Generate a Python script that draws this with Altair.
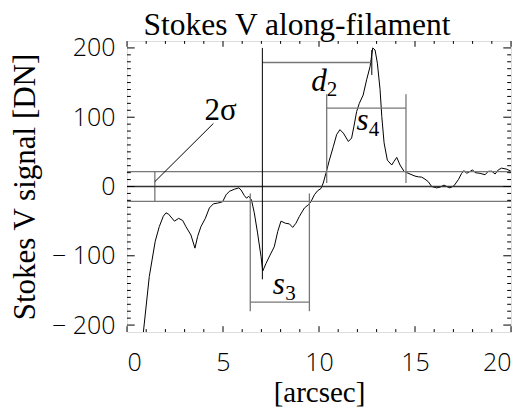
import altair as alt
import pandas as pd

# ---- curve: Stokes V signal along the filament ----
X_ARC = [0.80, 0.85, 1.16, 1.47, 1.68, 1.89, 2.03, 2.17, 2.47, 2.69, 2.90, 3.07, 3.33, 3.54,
         3.68, 3.85, 4.08, 4.29, 4.50, 4.72, 4.98, 5.16, 5.33, 5.59, 5.82, 5.94, 6.11, 6.23,
         6.33, 6.48, 6.63, 6.80, 6.98, 7.07, 7.24, 7.45, 7.67, 7.85, 8.02, 8.25, 8.46, 8.63,
         8.80, 8.98, 9.24, 9.46, 9.58, 9.76, 9.93, 10.10, 10.22, 10.36, 10.54, 10.75, 10.92,
         11.09, 11.27, 11.53, 11.70, 11.82, 11.96, 12.10, 12.30, 12.48, 12.66, 12.80, 12.92,
         13.04, 13.18, 13.27, 13.39, 13.56, 13.79, 13.90, 14.05, 14.22, 14.43, 14.57, 14.74,
         15.00, 15.17, 15.35, 15.52, 15.69, 15.87, 16.13, 16.30, 16.51, 16.65, 16.82, 17.03,
         17.26, 17.43, 17.55, 17.69, 17.86, 18.00, 18.13, 18.39, 18.65, 18.82, 19.00, 19.17,
         19.34, 19.51, 19.78, 20.00]
Y_DN = [-225, -211, -130, -79, -58, -43, -38, -40, -50, -46, -49, -58, -70, -89,
        -72, -58, -46, -31, -25, -24, -22, -12, -7, -4, -2, -5, -13, -17,
        -14, -19, -38, -67, -101, -122, -111, -99, -87, -65, -50, -53, -54, -59,
        -53, -43, -31, -26, -22, -12, -6, -3, 5, 19, 38, 58, 75,
        82, 77, 65, 70, 87, 108, 120, 132, 154, 173, 200, 197,
        178, 140, 101, 63, 38, 31, 36, 42, 31, 22, 20, 18,
        15, 14, 13.5, 10.6, 7, 0, -2, -1, 2, 0, -2, 1,
        10, 19, 23, 19, 21.6, 24, 20, 19, 17, 22, 22, 18,
        24, 26.5, 25, 22]

SIGMA2 = 21.5

# ---- annotation segments (data units) ----
SEG_X1 = [0, 0, 1.45, 7.05, 6.42, 9.50, 6.42, 10.40, 14.53, 10.40, 0, 1.45, 7.05, 12.75]
SEG_Y1 = [SIGMA2, -SIGMA2, -SIGMA2, 179, -10, -10, -167, 5, 5, 113, 0, 7, -134, 161]
SEG_X2 = [20, 20, 1.45, 12.75, 6.42, 9.50, 9.50, 10.40, 14.53, 14.53, 20, 4.5, 7.05, 12.75]
SEG_Y2 = [SIGMA2, -SIGMA2, SIGMA2, 179, -180, -180, -167, 133, 133, 113, 0, 91, 200, 197]
SEG_KIND = ["gray"] * 10 + ["zero"] + ["black"] * 3

# ---- text annotations ----
TITLE = "Stokes V along-filament"
TXT_MAIN = ["2σ"]
TXT_MAIN_X = [4.87]
TXT_MAIN_Y = [96]
TXT_ITAL = ["d", "s", "s"]
TXT_ITAL_X = [10.0, 12.27, 7.9]
TXT_ITAL_Y = [138, 82, -155]
TXT_SUB = ["2", "4", "3"]
TXT_SUB_X = [10.68, 12.86, 8.52]
TXT_SUB_Y = [131, 73, -163.5]

X_MAJOR = [0, 5, 10, 15, 20]
X_MINOR = [v for v in range(0, 21) if v % 5 != 0]
Y_MAJOR = [-200, -100, 0, 100, 200]
Y_MINOR = [v for v in range(-200, 201, 10) if v % 100 != 0]

W, H = 384, 291
SERIF = "Liberation Serif"
SANS = "'Open Sans', 'Lato', 'DejaVu Sans', sans-serif"

xs = alt.Scale(domain=[0, 20], nice=False, zero=False)
ys = alt.Scale(domain=[-210, 210], nice=False, zero=False)

xax = alt.Axis(
    values=X_MAJOR, ticks=False, domain=False, grid=False,
    labelFont=SANS, labelFontSize=25, labelFontWeight=300, labelColor="black",
    labelPadding=18, title="[arcsec]", titleFont=SERIF, titleFontSize=29,
    titleFontWeight="normal", titleColor="black", titleY=69, titleBaseline="alphabetic")
yax = alt.Axis(
    values=Y_MAJOR, ticks=False, domain=False, grid=False,
    labelExpr="datum.value < 0 ? '\u2212 ' + format(-datum.value, 'd') : format(datum.value, 'd')",
    labelFont=SANS, labelFontSize=25, labelFontWeight=300, labelColor="black",
    labelPadding=12, title="Stokes V signal [DN]", titleFont=SERIF, titleFontSize=31,
    titleFontWeight="normal", titleColor="black", titleX=-93, titleY=H / 2,
    titleBaseline="alphabetic", titleAngle=-90, titleAlign="center")

XE = alt.X("x:Q", scale=xs, axis=xax)
YE = alt.Y("y:Q", scale=ys, axis=yax)

curve_df = pd.DataFrame({"x": X_ARC, "y": Y_DN})
seg_df = pd.DataFrame({"x": SEG_X1, "y": SEG_Y1, "x2": SEG_X2, "y2": SEG_Y2, "kind": SEG_KIND})

curve = alt.Chart(curve_df).mark_line(color="black", strokeWidth=1, clip=True).encode(
    x=XE, y=YE, order=alt.Order("x:Q"))

def segs(kind, color, width):
    return alt.Chart(seg_df).transform_filter(alt.datum.kind == kind).mark_rule(
        color=color, strokeWidth=width).encode(x=XE, y=YE, x2="x2:Q", y2="y2:Q")

gray = segs("gray", "#777777", 1.3)
zero = segs("zero", "#333333", 1.6)
black = segs("black", "black", 1)

def ticks_x(vals, length):
    df = pd.DataFrame({"x": vals})
    b = alt.Chart(df).mark_rule(color="black", strokeWidth=1).encode(
        x=XE, y=alt.value(H), y2=alt.value(H - length))
    t = alt.Chart(df).mark_rule(color="black", strokeWidth=1).encode(
        x=XE, y=alt.value(0), y2=alt.value(length))
    return [b, t]

def ticks_y(vals, length):
    df = pd.DataFrame({"y": vals})
    l = alt.Chart(df).mark_rule(color="black", strokeWidth=1).encode(
        y=YE, x=alt.value(0), x2=alt.value(length))
    r = alt.Chart(df).mark_rule(color="black", strokeWidth=1).encode(
        y=YE, x=alt.value(W), x2=alt.value(W - length))
    return [l, r]

tick_layers = ticks_x(X_MAJOR, 5.8) + ticks_x(X_MINOR, 2.9) + ticks_y(Y_MAJOR, 7.7) + ticks_y(Y_MINOR, 3.8)

main_txt = alt.Chart(pd.DataFrame({"t": TXT_MAIN, "x": TXT_MAIN_X, "y": TXT_MAIN_Y})).mark_text(
    font=SERIF, fontSize=31, align="center", baseline="alphabetic", color="black").encode(
    x=XE, y=YE, text="t:N")
ital_txt = alt.Chart(pd.DataFrame({"t": TXT_ITAL, "x": TXT_ITAL_X, "y": TXT_ITAL_Y})).mark_text(
    font=SERIF, fontSize=31, fontStyle="italic", align="center", baseline="alphabetic",
    color="black").encode(x=XE, y=YE, text="t:N")
sub_txt = alt.Chart(pd.DataFrame({"t": TXT_SUB, "x": TXT_SUB_X, "y": TXT_SUB_Y})).mark_text(
    font=SERIF, fontSize=21, align="center", baseline="alphabetic", color="black").encode(
    x=XE, y=YE, text="t:N")

title_txt = alt.Chart(pd.DataFrame({"t": [TITLE]})).mark_text(
    font=SERIF, fontSize=31.5, align="center", baseline="alphabetic", color="black").encode(
    text="t:N", x=alt.value(170), y=alt.value(-6))

chart = alt.layer(curve, gray, zero, black, *tick_layers, main_txt, ital_txt, sub_txt,
                  title_txt).properties(
    width=W, height=H,
    autosize=alt.AutoSizeParams(type="none"),
    padding={"left": 119, "top": 33, "right": 8, "bottom": 80},
).configure_view(stroke="black", strokeWidth=1).configure(background="white")

chart.save("out.html", embed_options={"renderer": "svg", "actions": False})
